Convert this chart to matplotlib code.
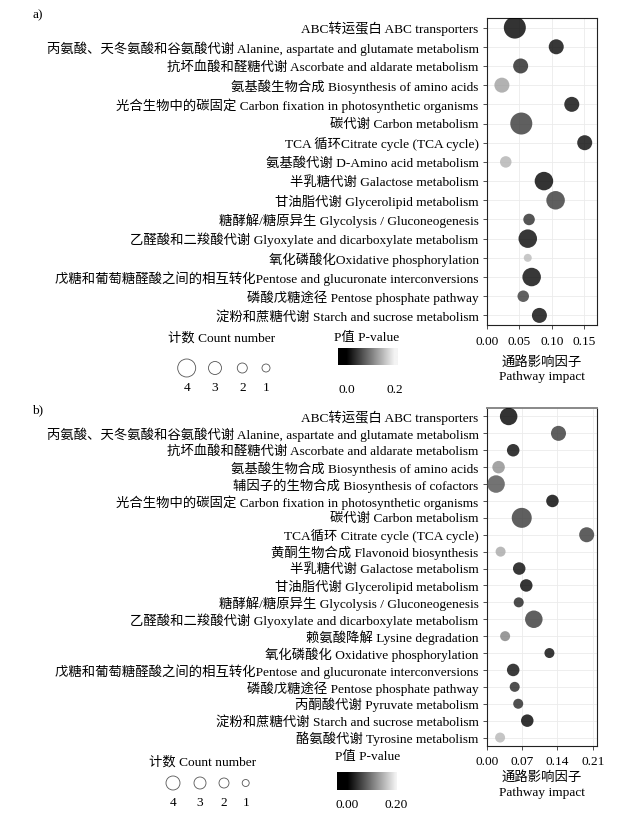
import numpy as np
import matplotlib
matplotlib.use("Agg")
import matplotlib.pyplot as plt
from matplotlib.colors import LinearSegmentedColormap

plt.rcParams['font.family'] = ['Liberation Serif', 'Noto Sans CJK SC']
plt.rcParams['font.size'] = 9.6

# ---- panel a data ----
labels_a = [
    "ABC转运蛋白 ABC transporters",
    "丙氨酸、天冬氨酸和谷氨酸代谢 Alanine, aspartate and glutamate metabolism",
    "抗坏血酸和醛糖代谢 Ascorbate and aldarate metabolism",
    "氨基酸生物合成 Biosynthesis of amino acids",
    "光合生物中的碳固定 Carbon fixation in photosynthetic organisms",
    "碳代谢 Carbon metabolism",
    "TCA 循环Citrate cycle (TCA cycle)",
    "氨基酸代谢 D-Amino acid metabolism",
    "半乳糖代谢 Galactose metabolism",
    "甘油脂代谢 Glycerolipid metabolism",
    "糖酵解/糖原异生 Glycolysis / Gluconeogenesis",
    "乙醛酸和二羧酸代谢 Glyoxylate and dicarboxylate metabolism",
    "氧化磷酸化Oxidative phosphorylation",
    "戊糖和葡萄糖醛酸之间的相互转化Pentose and glucuronate interconversions",
    "磷酸戊糖途径 Pentose phosphate pathway",
    "淀粉和蔗糖代谢 Starch and sucrose metabolism",
]
impact_a = [0.043, 0.107, 0.052, 0.023, 0.131, 0.053, 0.151, 0.029,
            0.088, 0.106, 0.065, 0.063, 0.063, 0.069, 0.056, 0.081]
count_a = [5, 3, 3, 3, 3, 5, 3, 2, 4, 4, 2, 4, 1, 4, 2, 3]
pval_a = [0.0, 0.005, 0.03, 0.13, 0.005, 0.045, 0.005, 0.146,
          0.0, 0.045, 0.035, 0.005, 0.153, 0.005, 0.047, 0.005]
xticks_a = [0.0, 0.05, 0.10, 0.15]
xticklabels_a = ["0.00", "0.05", "0.10", "0.15"]

# ---- panel b data ----
labels_b = [
    "ABC转运蛋白 ABC transporters",
    "丙氨酸、天冬氨酸和谷氨酸代谢 Alanine, aspartate and glutamate metabolism",
    "抗坏血酸和醛糖代谢 Ascorbate and aldarate metabolism",
    "氨基酸生物合成 Biosynthesis of amino acids",
    "辅因子的生物合成 Biosynthesis of cofactors",
    "光合生物中的碳固定 Carbon fixation in photosynthetic organisms",
    "碳代谢 Carbon metabolism",
    "TCA循环 Citrate cycle (TCA cycle)",
    "黄酮生物合成 Flavonoid biosynthesis",
    "半乳糖代谢 Galactose metabolism",
    "甘油脂代谢 Glycerolipid metabolism",
    "糖酵解/糖原异生 Glycolysis / Gluconeogenesis",
    "乙醛酸和二羧酸代谢 Glyoxylate and dicarboxylate metabolism",
    "赖氨酸降解 Lysine degradation",
    "氧化磷酸化 Oxidative phosphorylation",
    "戊糖和葡萄糖醛酸之间的相互转化Pentose and glucuronate interconversions",
    "磷酸戊糖途径 Pentose phosphate pathway",
    "丙酮酸代谢 Pyruvate metabolism",
    "淀粉和蔗糖代谢 Starch and sucrose metabolism",
    "酪氨酸代谢 Tyrosine metabolism",
]
impact_b = [0.043, 0.142, 0.052, 0.023, 0.018, 0.130, 0.069, 0.198, 0.027, 0.064,
            0.078, 0.063, 0.093, 0.036, 0.124, 0.052, 0.055, 0.062, 0.080, 0.026]
count_b = [4, 3, 2, 2, 4, 2, 5, 3, 1, 2, 2, 1, 4, 1, 1, 2, 1, 1, 2, 1]
pval_b = [0.0, 0.045, 0.005, 0.115, 0.066, 0.0, 0.045, 0.045, 0.138, 0.005,
          0.003, 0.025, 0.045, 0.105, 0.005, 0.01, 0.03, 0.03, 0.0, 0.15]
xticks_b = [0.0, 0.07, 0.14, 0.21]
xticklabels_b = ["0.00", "0.07", "0.14", "0.21"]

legend_counts = [4, 3, 2, 1]

W, H = 636, 818
cmap = LinearSegmentedColormap.from_list("pv", ["#000000", "#f4f4f4"])


def dia_a(c):
    return 8 + (np.asarray(c) - 1) * 3.5


def dia_b(c):
    return 10 + (np.asarray(c) - 1) * 2.5


def px_area(d):
    # diameter in px -> scatter size in pt^2 (dpi 100)
    return (np.asarray(d) * 0.72) ** 2


fig = plt.figure(figsize=(W / 100, H / 100), dpi=100)


def bubble_panel(box, labels, impact, counts, pvals, size_fn, xlim, xticks, xticklabels, labelpad):
    x0, y0, x1, y1 = box
    ax = fig.add_axes([x0 / W, 1 - y1 / H, (x1 - x0) / W, (y1 - y0) / H])
    rows = np.arange(len(labels))
    ax.scatter(impact, rows, s=px_area(size_fn(counts)), c=pvals, cmap=cmap,
               vmin=0, vmax=0.2, alpha=0.8, edgecolors="none", zorder=3)
    ax.set_ylim(len(labels) - 0.5, -0.5)
    ax.set_xlim(*xlim)
    ax.set_yticks(rows)
    ax.set_yticklabels(labels)
    ax.set_xticks(xticks)
    ax.set_xticklabels(xticklabels)
    ax.grid(True, color="#ebebeb", lw=0.6, zorder=0)
    ax.tick_params(length=3, width=0.6, pad=3, colors="#333333", labelcolor="black")
    ax.tick_params(axis="x", pad=5)
    for sp in ax.spines.values():
        sp.set_color("#222222")
        sp.set_linewidth(0.8)
    ax.set_xlabel("通路影响因子\nPathway impact", labelpad=labelpad, linespacing=1.3)
    return ax


ax_a = bubble_panel((487, 18, 597, 325), labels_a, impact_a, count_a, pval_a, dia_a,
                    (0, 0.17), xticks_a, xticklabels_a, 5.5)
ax_b = bubble_panel((487, 408, 597, 746), labels_b, impact_b, count_b, pval_b, dia_b,
                    (0, 0.2185), xticks_b, xticklabels_b, 2.5)
ax_b.tick_params(axis="x", pad=4)
ax_b.spines["top"].set_color("#888888")
ax_b.spines["top"].set_linewidth(1.4)

fig.text(38 / W, 1 - 15 / H, "a)", ha="center", va="center")
fig.text(38 / W, 1 - 410 / H, "b)", ha="center", va="center")

# ---- legends (overlay in pixel coordinates) ----
ov = fig.add_axes([0, 0, 1, 1], zorder=-1)
ov.set_xlim(0, W)
ov.set_ylim(H, 0)
ov.axis("off")


def size_legend(cx_title, y_title, xs, y_circ, y_lab, dias):
    ov.text(cx_title, y_title, "计数 Count number", ha="center", va="center")
    ov.scatter(xs, [y_circ] * len(xs), s=px_area(dias), facecolors="white",
               edgecolors="#555555", linewidths=0.6)
    for x, c in zip(xs, legend_counts):
        ov.text(x, y_lab, str(c), ha="center", va="center")


size_legend(222, 338, [186.7, 215, 242.3, 266], 368, 388, [18, 13, 10, 8])
size_legend(203, 762, [173, 200, 224, 245.7], 783, 803, [14, 12, 10, 7])


def pval_legend(cx_title, y_title, bar, lims, ticks, ticklabels, pad):
    bx0, by0, bx1, by1 = bar
    fig.text(cx_title / W, 1 - y_title / H, "P值 P-value", ha="center", va="center")
    cax = fig.add_axes([bx0 / W, 1 - by1 / H, (bx1 - bx0) / W, (by1 - by0) / H])
    grad = np.linspace(lims[0], lims[1], 256).reshape(1, -1)
    cax.imshow(grad, cmap=cmap, vmin=0, vmax=0.2, aspect="auto",
               extent=[lims[0], lims[1], 0, 1])
    cax.set_xlim(*lims)
    cax.set_yticks([])
    cax.set_xticks(ticks)
    cax.set_xticklabels(ticklabels)
    cax.tick_params(length=0, pad=pad)
    for sp in cax.spines.values():
        sp.set_visible(False)


pval_legend(367, 338, (338.3, 348, 398.3, 365), (-0.035, 0.2137), [0, 0.2], ["0.0", "0.2"], 13.5)
pval_legend(368, 757, (336.7, 771.7, 396.7, 790), (-0.043, 0.2028), [0, 0.2], ["0.00", "0.20"], 6.5)

fig.savefig("out.png", dpi=100)
